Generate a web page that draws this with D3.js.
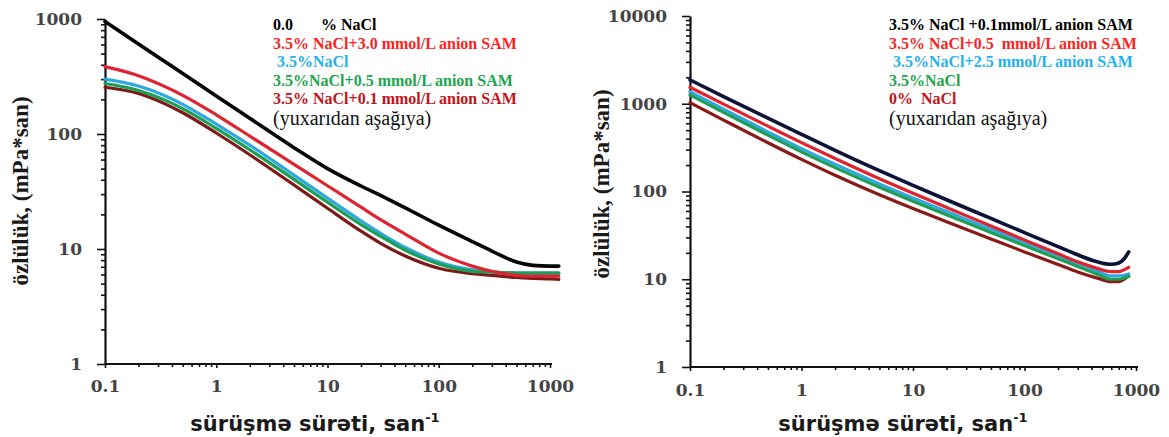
<!DOCTYPE html>
<html>
<head>
<meta charset="utf-8">
<script src="https://cdn.jsdelivr.net/npm/d3@7"></script>
<style>
  html, body { margin: 0; padding: 0; background: #fff; }
  svg { display: block; }
</style>
</head>
<body>
<svg id="chart" width="1169" height="437"></svg>
<script>
// ---- Panel A: viscosity (mPa*san) vs shear rate (san^-1) ----
const shearRateA = [0.1, 0.2, 0.35, 0.5, 1, 2, 5, 10, 20, 30, 50, 100, 200, 300, 500, 700, 1000, 1200];
const viscA_nacl0  = [950, 607, 422, 336, 214, 137, 76, 50, 35.3, 29.2, 22.8, 16.1, 11.6, 9.6, 7.7, 7.2, 7.1, 7.1];
const viscA_sam30  = [385, 321, 257, 217, 147, 96, 54.5, 35.5, 23.1, 18.0, 13.5, 9.2, 7.1, 6.4, 5.9, 5.8, 5.8, 5.8];
const viscA_nacl35 = [300, 261, 214, 181, 122, 80, 43.9, 27.7, 17.6, 13.7, 10.3, 7.7, 6.6, 6.3, 6.1, 6.1, 6.1, 6.1];
const viscA_sam05  = [275, 239, 196, 166, 112, 73, 40.3, 25.5, 16.3, 12.9, 9.75, 7.4, 6.4, 6.3, 6.2, 6.2, 6.2, 6.2];
const viscA_sam01  = [255, 225, 182, 153, 102, 66, 36, 22.6, 14.3, 11.2, 8.7, 6.8, 6.1, 5.9, 5.65, 5.56, 5.5, 5.45];

const legendA = [
  "0.0       % NaCl",
  "3.5% NaCl+3.0 mmol/L anion SAM",
  " 3.5%NaCl",
  "3.5%NaCl+0.5 mmol/L anion SAM",
  "3.5% NaCl+0.1 mmol/L anion SAM"
];

// ---- Panel B ----
const shearRateB = [0.1, 0.2, 0.5, 1, 2, 5, 10, 20, 50, 100, 200, 300, 450, 600, 700, 780, 860];
const viscB_sam01  = [1870, 1208, 684, 448, 295, 173, 117.5, 80.5, 49.3, 34, 23.5, 19, 15.8, 14.8, 15.3, 17, 20.5];
const viscB_sam05  = [1540, 989, 555, 361, 238, 140, 95.5, 65.8, 40.5, 28, 19.5, 15.8, 13.3, 12.2, 12.2, 12.8, 13.7];
const viscB_sam25  = [1375, 868, 478, 308, 204, 122, 84.5, 59.3, 37.2, 26.4, 18.6, 15.2, 12.4, 10.9, 10.9, 11.1, 11.5];
const viscB_nacl35 = [1260, 796, 439, 283, 187, 112, 77.5, 54.4, 34.1, 24.2, 17.1, 14.0, 11.4, 10.0, 10.0, 10.3, 10.8];
const viscB_nacl0  = [1030, 652, 359, 232, 153, 91.6, 63.9, 45.2, 28.8, 20.5, 14.7, 12.1, 10.3, 9.4, 9.4, 10.0, 10.9];

const legendB = [
  "3.5% NaCl +0.1mmol/L anion SAM",
  "3.5% NaCl+0.5  mmol/L anion SAM",
  " 3.5%NaCl+2.5 mmol/L anion SAM",
  "3.5%NaCl",
  "0%  NaCl"
];

const orderNote = "(yuxarıdan aşağıya)";
const yTitle = "özlülük, (mPa*san)";
const xTitle = "sürüşmə sürəti, san";
const xTitleSup = "-1";

// colours: legend text and curve strokes, top to bottom
const legendColors = ["#000000", "#ff1f1f", "#1fb2ef", "#1ba64e", "#c4121b"];
const lineColorsA  = ["#050505", "#dc2530", "#2ea9df", "#1f9d55", "#7d1a17"];
const lineColorsB  = ["#0d1238", "#dc2530", "#2ea9df", "#1f9d55", "#8a1a17"];

const panels = [
  {
    rate: shearRateA,
    series: [viscA_nacl0, viscA_sam30, viscA_nacl35, viscA_sam05, viscA_sam01],
    lineColors: lineColorsA,
    legend: legendA,
    xRange: [105, 550], xAxisEnd: 552,
    yDomain: [1, 1000], yRange: [364, 19],
    legendX: 273,
    yTitlePos: [20, 191],
    xTitlePos: [315, 431],
    xPad: 12
  },
  {
    rate: shearRateB,
    series: [viscB_sam01, viscB_sam05, viscB_sam25, viscB_nacl35, viscB_nacl0],
    lineColors: lineColorsB,
    legend: legendB,
    xRange: [690, 1136], xAxisEnd: 1138,
    yDomain: [1, 10000], yRange: [367, 16],
    legendX: 889,
    yTitlePos: [601, 184],
    xTitlePos: [903, 431],
    xPad: 13
  }
];

const svg = d3.select("#chart");

function logTicks(lo, hi) {
  const major = [], minor = [];
  const e0 = Math.round(Math.log10(lo)), e1 = Math.round(Math.log10(hi));
  for (let e = e0; e <= e1; e++) {
    const p = Math.pow(10, e);
    major.push(+p.toPrecision(3));
    if (e < e1) for (let d = 2; d <= 9; d++) minor.push(+(d * p).toPrecision(3));
  }
  return { major, minor };
}

const fmt = d => (d < 1 ? String(d) : d3.format("d")(d));

panels.forEach(p => {
  const x = d3.scaleLog().domain([0.1, 1000]).range(p.xRange);
  const y = d3.scaleLog().domain(p.yDomain).range(p.yRange);
  const g = svg.append("g");

  const xt = logTicks(0.1, 1000);
  const yt = logTicks(p.yDomain[0], p.yDomain[1]);

  // y axis: minor ticks, then major ticks with labels
  g.append("g")
    .attr("transform", `translate(${p.xRange[0]},0)`)
    .call(d3.axisLeft(y).tickValues(yt.minor).tickSize(4).tickSizeOuter(0).tickFormat(""))
    .call(s => s.select(".domain").remove());
  g.append("g")
    .attr("transform", `translate(${p.xRange[0]},0)`)
    .call(d3.axisLeft(y).tickValues(yt.major).tickSize(8).tickSizeOuter(0).tickPadding(15).tickFormat(fmt));

  // x axis: minor ticks, then major ticks with labels
  g.append("g")
    .attr("transform", `translate(0,${p.yRange[0]})`)
    .call(d3.axisBottom(x).tickValues(xt.minor).tickSize(3).tickSizeOuter(0).tickFormat(""))
    .call(s => s.select(".domain").remove());
  const xAx = g.append("g")
    .attr("transform", `translate(0,${p.yRange[0]})`)
    .call(d3.axisBottom(x).tickValues(xt.major).tickSize(4).tickSizeOuter(0).tickPadding(p.xPad).tickFormat(fmt));
  xAx.select(".domain").attr("d", `M${p.xRange[0]},0H${p.xAxisEnd}`);

  g.selectAll(".tick line").attr("stroke", "#111").attr("stroke-width", 1.6);
  g.selectAll(".domain").attr("stroke", "#111").attr("stroke-width", 2.2);
  g.selectAll(".tick text")
    .attr("font-family", "'DejaVu Serif', serif")
    .attr("font-weight", "bold")
    .attr("font-size", 17)
    .attr("fill", "#444");

  // curves (lowest drawn first so upper curves sit on top)
  const line = d3.line()
    .x((d, i) => x(p.rate[i]))
    .y(d => y(d))
    .curve(d3.curveMonotoneX);
  const drawOrder = [4, 2, 3, 1, 0];
  drawOrder.forEach(k => {
    g.append("path")
      .datum(p.series[k])
      .attr("d", line)
      .attr("fill", "none")
      .attr("stroke", p.lineColors[k])
      .attr("stroke-width", k === 0 ? 3.6 : 3.2)
      .attr("stroke-linejoin", "round")
      .attr("stroke-linecap", "round");
  });

  // legend
  const lg = g.append("g").attr("transform", `translate(${p.legendX},0)`);
  p.legend.forEach((t, i) => {
    lg.append("text")
      .attr("x", 0)
      .attr("y", 30 + i * 18.5)
      .attr("font-family", "'Liberation Serif', 'Times New Roman', serif")
      .attr("font-weight", "bold")
      .attr("font-size", 16)
      .attr("fill", legendColors[i])
      .style("white-space", "pre")
      .text(t);
  });
  lg.append("text")
    .attr("x", 0)
    .attr("y", 125)
    .attr("font-family", "'Liberation Serif', 'Times New Roman', serif")
    .attr("font-size", 20)
    .attr("fill", "#111")
    .text(orderNote);

  // axis titles
  g.append("text")
    .attr("transform", `translate(${p.yTitlePos[0]},${p.yTitlePos[1]}) rotate(-90)`)
    .attr("text-anchor", "middle")
    .attr("dominant-baseline", "central")
    .attr("font-family", "'Liberation Serif', 'Times New Roman', serif")
    .attr("font-weight", "bold")
    .attr("font-size", 23)
    .attr("fill", "#1a1a1a")
    .text(yTitle);

  const xTitleText = g.append("text")
    .attr("x", p.xTitlePos[0])
    .attr("y", p.xTitlePos[1])
    .attr("text-anchor", "middle")
    .attr("font-family", "'DejaVu Sans', Verdana, sans-serif")
    .attr("font-weight", "bold")
    .attr("font-size", 21)
    .attr("fill", "#1a1a1a");
  xTitleText.append("tspan").text(xTitle);
  xTitleText.append("tspan")
    .attr("dy", -9)
    .attr("font-size", 13)
    .text(xTitleSup);
});
</script>
</body>
</html>
